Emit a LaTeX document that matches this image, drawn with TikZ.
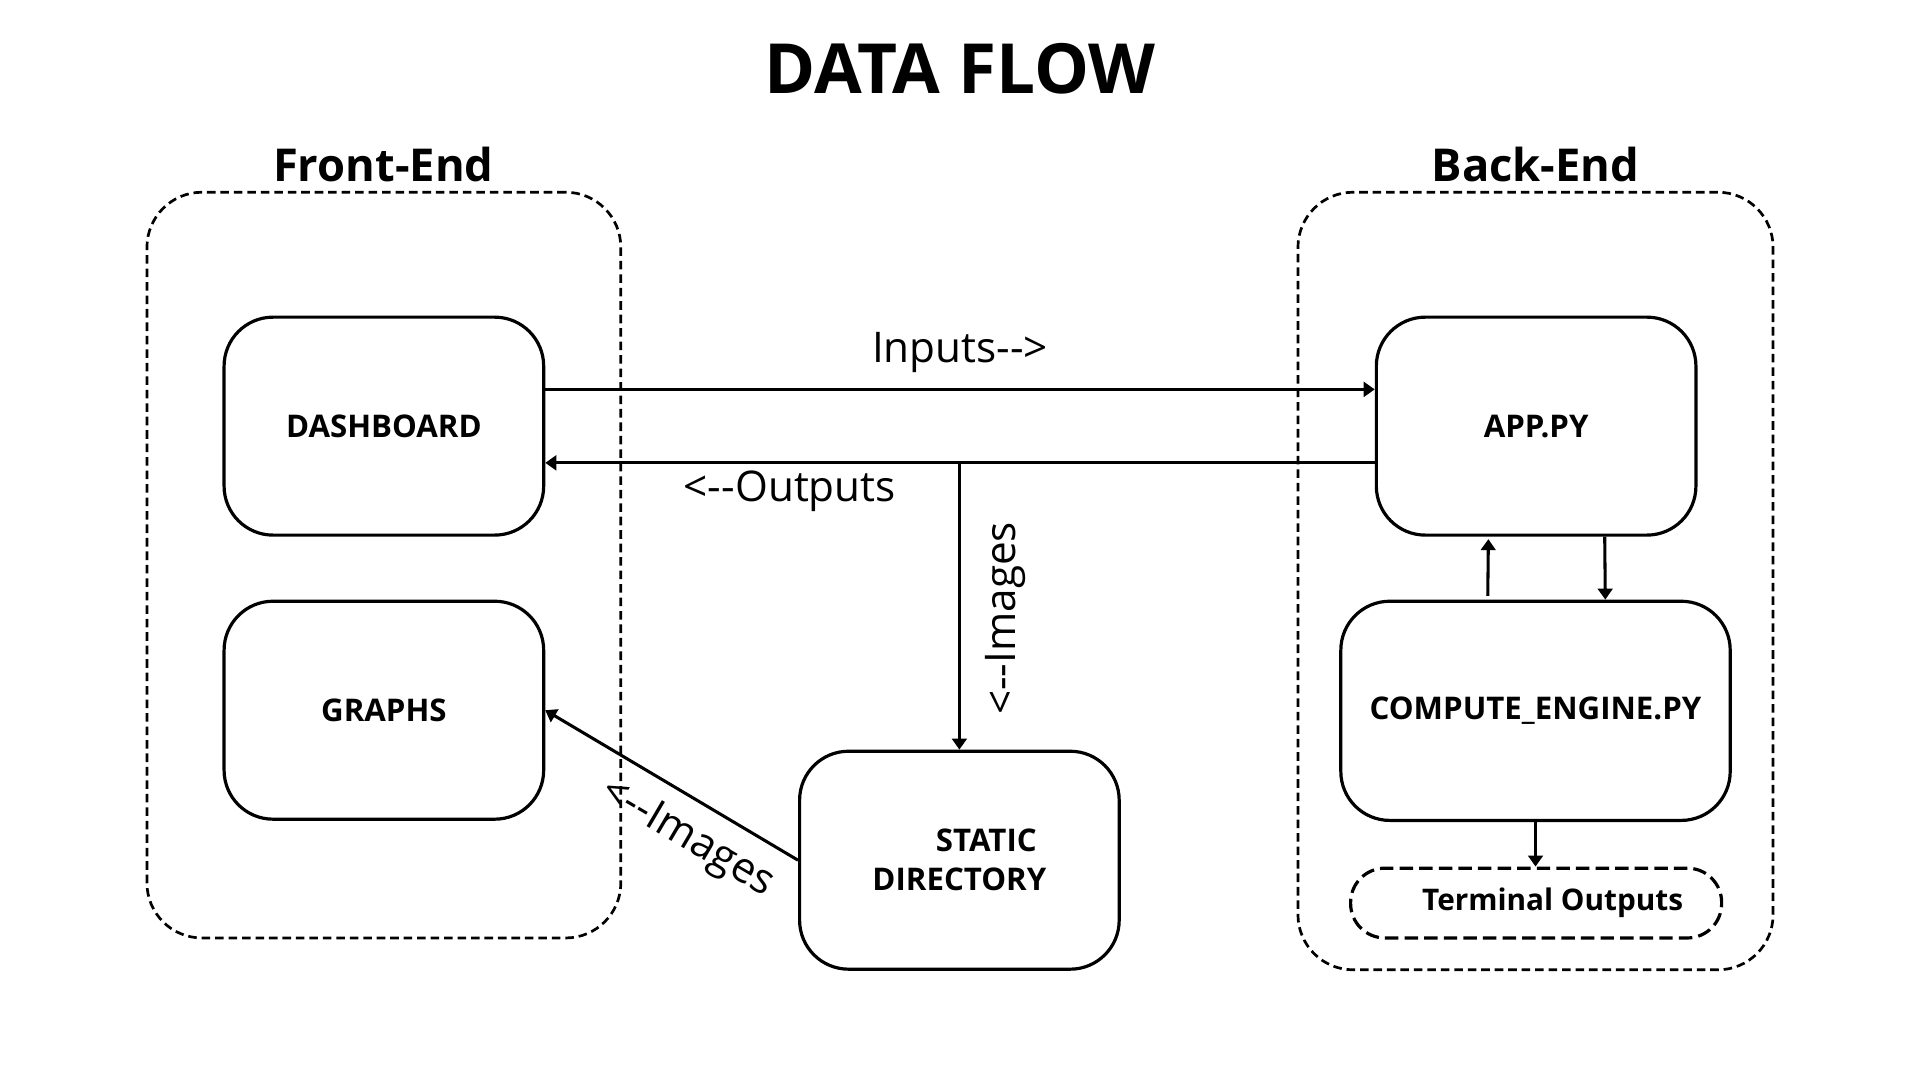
\documentclass[tikz,border=0pt]{standalone}
\usepackage{fontspec}
\setmainfont{Open Sans}
\usetikzlibrary{arrows.meta}
\begin{document}
\begin{tikzpicture}[x=1pt,y=-1pt,
  box/.style={draw, line width=2.6pt, rounded corners=40pt, minimum width=261pt, minimum height=178pt, font=\fontsize{25.5}{32}\selectfont\bfseries, align=center, inner sep=0pt},
  container/.style={draw, line width=2.2pt, dash pattern=on 7pt off 4pt, rounded corners=45pt, inner sep=0pt},
  arr/.style={line width=2.5pt, -{Triangle[length=9pt,width=12pt]}},
  lbl/.style={font=\fontsize{34.5}{40}\selectfont, inner sep=0pt},
  hdr/.style={font=\fontsize{37}{42}\selectfont\bfseries, inner sep=0pt}]
\useasboundingbox[fill=white] (0,0) rectangle (1568,882);
% title and headers
\node[font=\fontsize{56.5}{62}\selectfont\bfseries, inner sep=0pt] (title) at (784,56) {DATA FLOW};
\node[hdr] (fehdr) at (313,134) {Front-End};
\node[hdr] (behdr) at (1254,134) {Back-End};
% containers
\node[container, minimum width=387pt, minimum height=609pt] (front) at (313.5,461.5) {};
\node[container, minimum width=388pt, minimum height=635pt] (back) at (1254,474.5) {};
% boxes
\node[box] (dash) at (313.5,348) {\raisebox{-2pt}{DASHBOARD}};
\node[box] (graphs) at (313.5,580) {\raisebox{-2pt}{GRAPHS}};
\node[box] (app) at (1254.5,348) {\raisebox{-2pt}{APP.PY}};
\node[box, minimum width=318pt, minimum height=179pt] (comp) at (1254,580.5) {\raisebox{-2pt}{COMPUTE\_ENGINE.PY}};
\node[box] (static) at (783.5,702.5) {\hspace*{44pt}STATIC\\DIRECTORY};
\node[draw, line width=2.6pt, dash pattern=on 11pt off 5pt, rounded corners=28pt, minimum width=303pt, minimum height=57pt, inner sep=0pt, font=\fontsize{24.3}{29}\selectfont\bfseries] (term) at (1254.5,737.5) {\hspace*{27pt}\raisebox{-2pt}{Terminal Outputs}};
% connectors
\coordinate (o) at ([yshift=-30pt]app.west);
\draw[arr] ([yshift=30pt]dash.east) -- ([yshift=30pt]app.west);
\draw[arr] (o) -- ([yshift=-30pt]dash.east);
\draw[arr] (static.north |- o) -- (static.north);
\draw[arr] (static.west) -- (graphs.east);
\draw[arr] ([xshift=-39pt,yshift=3pt]comp.north) -- ([xshift=-39pt,yshift=-2pt]app.south);
\draw[arr] ([xshift=56pt]app.south) -- ([xshift=57pt]comp.north);
\draw[arr] (comp.south) -- (comp.south |- term.north);
% labels
\node[lbl] (lin) at (784,288) {Inputs-{}->};
\node[lbl] (lout) at (645,401) {<-{}-Outputs};
\node[lbl, rotate=90] (limg1) at (821,505) {<-{}-Images};
\node[lbl, rotate=-30.5] (limg2) at (561,685) {<-{}-Images};
\end{tikzpicture}
\end{document}
